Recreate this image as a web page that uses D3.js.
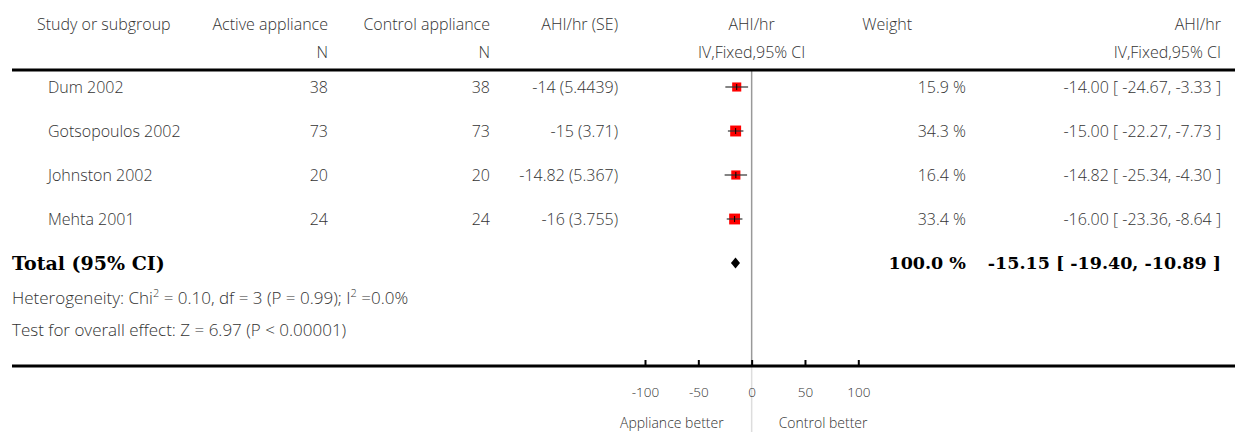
<!DOCTYPE html>
<html>
<head>
<meta charset="utf-8">
<script src="https://cdn.jsdelivr.net/npm/d3@7"></script>
<style>
  body { margin: 0; background: #fff; }
  svg text { font-family: "Open Sans", Lato, sans-serif; fill: #333; font-weight: 300; }
</style>
</head>
<body>
<div id="chart-container"></div>
<script>
const studies = ['Dum 2002', 'Gotsopoulos 2002', 'Johnston 2002', 'Mehta 2001'];
const activeN = [38, 73, 20, 24];
const controlN = [38, 73, 20, 24];
const meanDiff = [-14, -15, -14.82, -16];
const stdErr = [5.4439, 3.71, 5.367, 3.755];
const weights = [15.9, 34.3, 16.4, 33.4];
const ciLow = [-24.67, -22.27, -25.34, -23.36];
const ciHigh = [-3.33, -7.73, -4.30, -8.64];
const totalEst = [-15.15];
const totalCi = [-19.40, -10.89];
const totalWeight = [100.0];
const axisTicks = [-100, -50, 0, 50, 100];

const chartWidth = 1235;
const chartHeight = 432;
const fontSize = 16;
const noteSize = 17;
const boldFont = '"DejaVu Serif", "Liberation Serif", serif';

const svg = d3.select('#chart-container')
  .append('svg')
  .attr('width', chartWidth)
  .attr('height', chartHeight);

// scales
const x = d3.scaleLinear().domain([-100, 100]).range([645, 858.3]);
const y = d3.scalePoint().domain(studies).range([87, 219]);
const side = d3.scaleLinear().domain([15, 35]).range([9, 11]);

const rowsData = studies.map((s, i) => ({
  study: s, a: activeN[i], c: controlN[i], md: meanDiff[i], se: stdErr[i],
  w: weights[i], lo: ciLow[i], hi: ciHigh[i]
}));

// header
const header = svg.append('g').attr('font-size', fontSize);
const addText = (g, txt, xx, yy, anchor) => g.append('text')
  .attr('x', xx).attr('y', yy).attr('dy', '0.35em')
  .attr('text-anchor', anchor || 'start').text(txt);

addText(header, 'Study or subgroup', 37, 24);
addText(header, 'Active appliance', 328, 24, 'end');
addText(header, 'Control appliance', 490, 24, 'end');
addText(header, 'AHI/hr (SE)', 618, 24, 'end');
addText(header, 'AHI/hr', x(0), 24, 'middle');
addText(header, 'Weight', 912, 24, 'end');
addText(header, 'AHI/hr', 1221, 24, 'end');
addText(header, 'N', 328, 52, 'end');
addText(header, 'N', 490, 52, 'end');
addText(header, 'IV,Fixed,95% CI', x(0), 52, 'middle');
addText(header, 'IV,Fixed,95% CI', 1221, 52, 'end');

// zero line
svg.append('line')
  .attr('x1', x(0)).attr('x2', x(0))
  .attr('y1', 70).attr('y2', 366)
  .attr('stroke', '#999').attr('stroke-width', 1.5);
svg.append('line')
  .attr('x1', x(0)).attr('x2', x(0))
  .attr('y1', 366).attr('y2', chartHeight)
  .attr('stroke', '#ddd').attr('stroke-width', 1.5);

// top rule
svg.append('line')
  .attr('x1', 12).attr('x2', chartWidth)
  .attr('y1', 70).attr('y2', 70)
  .attr('stroke', '#000').attr('stroke-width', 3);

// study rows
const rows = svg.selectAll('g.row')
  .data(rowsData)
  .enter()
  .append('g')
  .attr('class', 'row')
  .attr('font-size', fontSize)
  .attr('transform', (d) => `translate(0,${y(d.study)})`);

rows.append('text').attr('x', 48).attr('dy', '0.35em').text((d) => d.study);
rows.append('text').attr('x', 328).attr('dy', '0.35em').attr('text-anchor', 'end').text((d) => d.a);
rows.append('text').attr('x', 490).attr('dy', '0.35em').attr('text-anchor', 'end').text((d) => d.c);
rows.append('text').attr('x', 618).attr('dy', '0.35em').attr('text-anchor', 'end')
  .text((d) => `${d.md} (${d.se})`);
rows.append('text').attr('x', 966).attr('dy', '0.35em').attr('text-anchor', 'end')
  .text((d) => `${d.w.toFixed(1)} %`);
rows.append('text').attr('x', 1221).attr('dy', '0.35em').attr('text-anchor', 'end')
  .text((d) => `${d.md.toFixed(2)} [ ${d.lo.toFixed(2)}, ${d.hi.toFixed(2)} ]`);

rows.append('rect')
  .attr('x', (d) => x(d.md) - side(d.w) / 2)
  .attr('y', (d) => -side(d.w) / 2)
  .attr('width', (d) => side(d.w))
  .attr('height', (d) => side(d.w))
  .attr('fill', '#ff0000');
rows.append('line')
  .attr('x1', (d) => x(d.lo)).attr('x2', (d) => x(d.hi))
  .attr('y1', 0).attr('y2', 0)
  .attr('stroke', '#333').attr('stroke-width', 1.5).attr('stroke-opacity', 0.8);
rows.append('line')
  .attr('x1', (d) => x(d.md)).attr('x2', (d) => x(d.md))
  .attr('y1', -3).attr('y2', 3)
  .attr('stroke', '#000').attr('stroke-width', 1);

// total row
const totalY = 263;
const boldText = (txt, xx, anchor, size) => svg.append('text')
  .attr('x', xx).attr('y', totalY).attr('dy', '0.35em')
  .attr('text-anchor', anchor)
  .style('font-family', boldFont)
  .style('font-weight', 'bold').style('fill', '#000')
  .attr('font-size', size)
  .text(txt);
boldText('Total (95% CI)', 12, 'start', 19);
boldText(`${totalWeight[0].toFixed(1)} %`, 966, 'end', 17.5);
boldText(`${totalEst[0].toFixed(2)} [ ${totalCi[0].toFixed(2)}, ${totalCi[1].toFixed(2)} ]`, 1221, 'end', 17.5);

svg.append('path')
  .attr('d', `M${x(totalCi[0])},${totalY} L${x(totalEst[0])},${totalY - 5.5} L${x(totalCi[1])},${totalY} L${x(totalEst[0])},${totalY + 5.5} Z`)
  .attr('fill', '#000');

// footnotes
const het = svg.append('text')
  .attr('x', 12).attr('y', 298).attr('dy', '0.35em').attr('font-size', noteSize);
het.append('tspan').text('Heterogeneity: Chi');
het.append('tspan').attr('baseline-shift', 'super').attr('font-size', 11).text('2');
het.append('tspan').text(' = 0.10, df = 3 (P = 0.99); I');
het.append('tspan').attr('baseline-shift', 'super').attr('font-size', 11).text('2');
het.append('tspan').text(' =0.0%');

svg.append('text')
  .attr('x', 12).attr('y', 330).attr('dy', '0.35em').attr('font-size', noteSize)
  .text('Test for overall effect: Z = 6.97 (P < 0.00001)');

// bottom axis
svg.append('line')
  .attr('x1', 12).attr('x2', chartWidth)
  .attr('y1', 366).attr('y2', 366)
  .attr('stroke', '#000').attr('stroke-width', 3);

const xAxis = d3.axisBottom(x)
  .tickValues(axisTicks)
  .tickFormat((d) => String(d))
  .tickSizeInner(-6)
  .tickSizeOuter(0)
  .tickPadding(21);

const axisG = svg.append('g')
  .attr('transform', 'translate(0,366)')
  .call(xAxis);
axisG.select('.domain').remove();
axisG.selectAll('.tick line').attr('stroke', '#000').attr('stroke-width', 2);
axisG.selectAll('.tick text')
  .attr('font-size', 13.5)
  .style('font-family', '"Open Sans", Lato, sans-serif')
  .style('fill', '#333');

svg.append('text')
  .attr('x', x(0) - 28).attr('y', 423).attr('dy', '0.35em')
  .attr('text-anchor', 'end').attr('font-size', 14)
  .text('Appliance better');
svg.append('text')
  .attr('x', x(0) + 27).attr('y', 423).attr('dy', '0.35em')
  .attr('font-size', 14)
  .text('Control better');
</script>
</body>
</html>
